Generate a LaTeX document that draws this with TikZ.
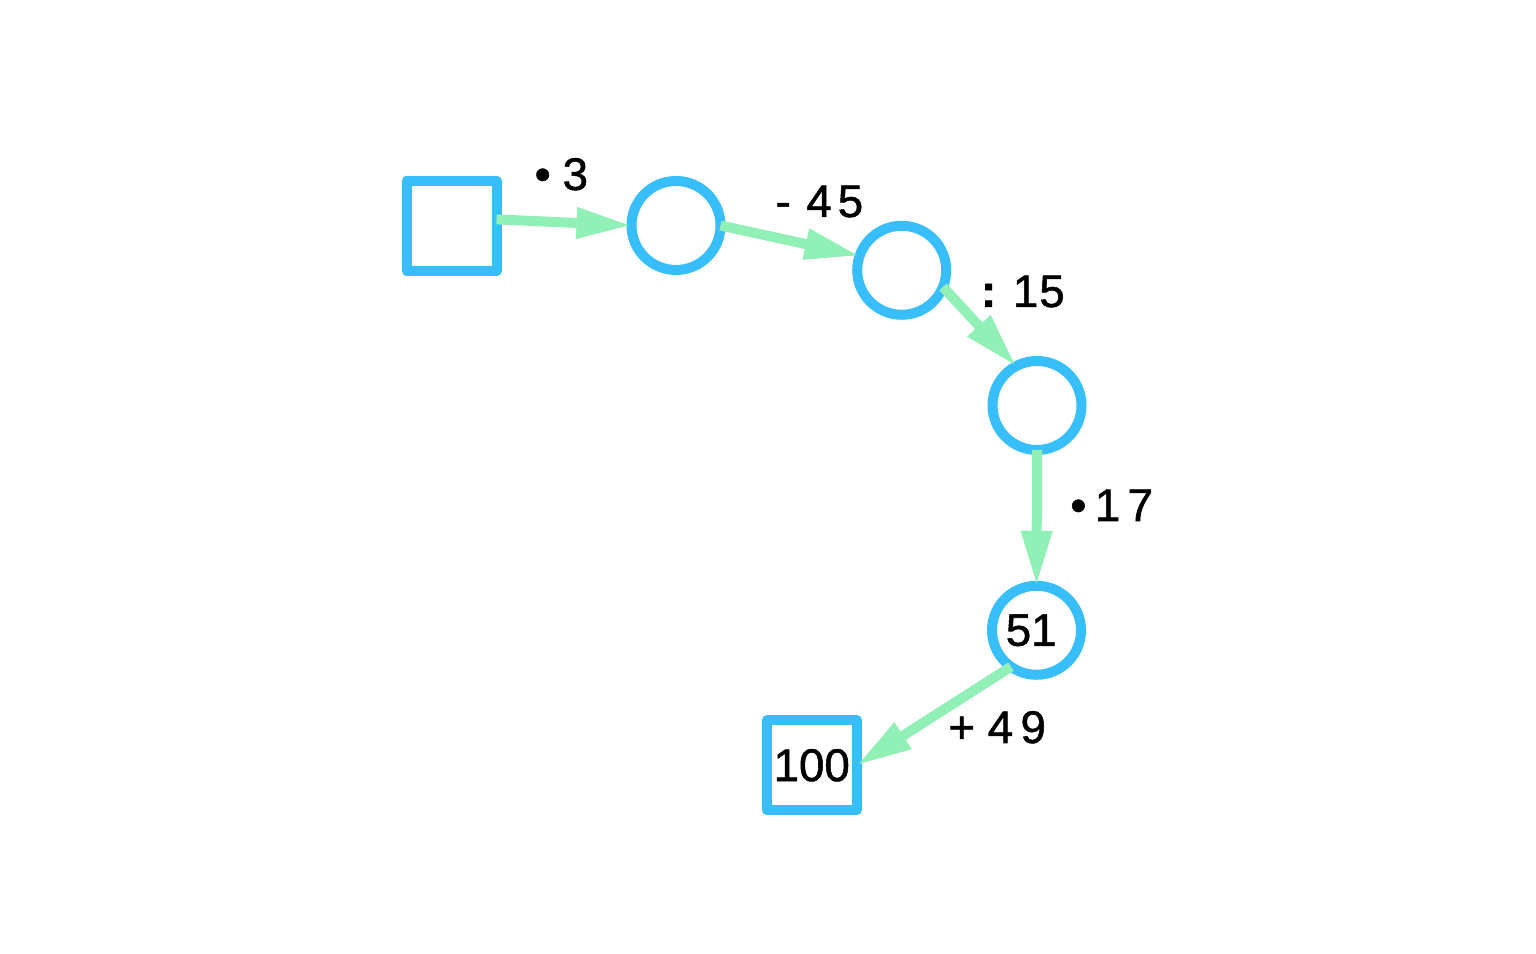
\documentclass[tikz,border=0pt]{standalone}
\usepackage{fontspec}
\setmainfont{Liberation Sans}
\newfontfamily\opfont{Liberation Sans}[FakeBold=1.2]
\usepackage{tikz}
\usetikzlibrary{arrows.meta}
\definecolor{nodeblue}{RGB}{56,190,250}
\definecolor{arrowgreen}{RGB}{145,240,182}

\begin{document}
\begin{tikzpicture}[
    box/.style={draw=nodeblue, line width=0.1cm, rectangle, minimum size=0.9cm,
      inner sep=0pt, outer sep=0pt, line join=round, font=\opfont\fontsize{13}{15}\selectfont},
    ring/.style={draw=nodeblue, line width=0.1cm, circle, minimum size=0.89cm,
      inner sep=0pt, outer sep=0pt, font=\opfont\fontsize{13}{15}\selectfont},
    link/.style={draw=arrowgreen, line width=0.1cm, -{Triangle[length=0.55cm, width=0.29cm]}},
    op/.style={anchor=base west, inner sep=0pt, font=\opfont\fontsize{13}{15}\selectfont}]
      \useasboundingbox (0,0) rectangle (15.36,9.54);

      \node (start) [box] at (4.515,7.283) {};
      \node (c1) [ring] at (6.76,7.285) {};
      \node (c2) [ring] at (9.017,6.837) {};
      \node (c3) [ring] at (10.37,5.485) {};
      \node (c4) [ring] at (10.365,3.237) {\raisebox{-1.2pt}{51\kern3pt}};
      \node (goal) [box] at (8.117,1.887) {\raisebox{-1pt}{100}};

      \draw[link] (start.8) -- (c1.west);
      \draw[link] (c1.east) -- (c2.161);
      \draw[link] (c2.-22) -- (c3.118);
      \draw[link] (c3.south) -- (c4.north);
      \draw[link] (c4.235) -- (goal.east);

      \node (mul3) [op] at (5.34,7.64) {•\kern3.4pt 3};
      \node (sub45) [op] at (7.75,7.37) {-\kern4.4pt 4\kern1.7pt 5};
      \node (div15) [op] at (9.804,6.47) {\textbf{:}\kern4.7pt 1\kern0.3pt 5};
      \node (mul17) [op] at (10.697,4.33) {•\kern2.4pt 1\kern2.1pt 7};
      \node (add49) [op] at (9.477,2.11) {+\kern3.6pt 4\kern2.1pt 9};
    \end{tikzpicture}
\end{document}
